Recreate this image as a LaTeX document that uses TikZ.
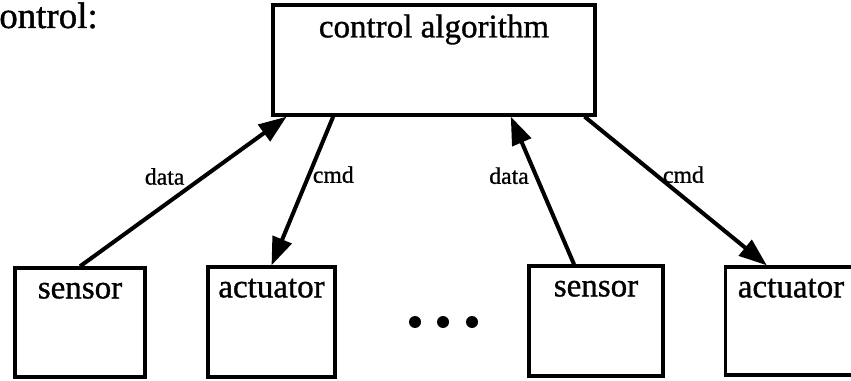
\documentclass[tikz,border=0pt]{standalone}
\usepackage{fontspec}
\setmainfont{Liberation Serif}
\newfontfamily\scanfont[FakeBold=1]{Liberation Serif}
\usetikzlibrary{arrows.meta,calc}

\begin{document}
\begin{tikzpicture}[x=0.02cm,y=-0.02cm,
  box/.style={draw,line width=1.9pt,minimum height=2.2cm,inner sep=0pt},
  lbl/.style={inner sep=0pt,font=\scanfont\fontsize{18.8}{20}\selectfont},
  tag/.style={inner sep=1pt,font=\scanfont\fontsize{13.5}{14}\selectfont},
  link/.style={line width=2.3pt,-{Triangle[length=0.56cm,width=0.4cm]}}]
\useasboundingbox (0,0) rectangle (851,381);

% heading, cut at the left edge
\node[anchor=base west,inner sep=0pt,font=\scanfont\fontsize{21}{22}\selectfont] (head) at (-1,28) {ontrol:};

% control algorithm
\node[box,minimum width=6.44cm] (ctrl) at (434,60) {};
\node[lbl,anchor=base] (ctrltxt) at ([yshift=-0.68cm]ctrl.north) {control algorithm};

% sensors and actuators
\node[box,minimum width=2.6cm,minimum height=2.18cm] (sen1) at (80,322.5) {};
\node[lbl,anchor=base] (sen1txt) at ([yshift=-0.64cm]sen1.north) {sensor};
\node[box,minimum width=2.54cm] (act1) at (271.5,322) {};
\node[lbl,anchor=base] (act1txt) at ([yshift=-0.64cm]act1.north) {actuator};
\node[box,minimum width=2.68cm] (sen2) at (596,321) {};
\node[lbl,anchor=base] (sen2txt) at ([yshift=-0.64cm]sen2.north) {sensor};
\node[box,minimum width=2.62cm,minimum height=2.16cm] (act2) at (791,321) {};
\node[lbl,anchor=base] (act2txt) at ([yshift=-0.64cm]act2.north) {actuator};

% dots
\foreach \x in {415,443,472}
  \fill (\x,322) circle (6);

% data and commands
\draw[link] (sen1.north) -- ($(ctrl.south west)!.047!(ctrl.south east)$)
  node[tag,pos=.6,anchor=east,xshift=-9pt] (d1) {data};
\draw[link] ($(ctrl.south west)!.19!(ctrl.south east)$) -- (act1.north)
  node[tag,pos=.39,anchor=west] (c1) {cmd};
\draw[link] ($(sen2.north west)!.34!(sen2.north east)$) -- ($(ctrl.south west)!.736!(ctrl.south east)$)
  node[tag,pos=.6,anchor=east,xshift=-2pt] (d2) {data};
\draw[link] ($(ctrl.south west)!.963!(ctrl.south east)$) -- ($(act2.north west)!.32!(act2.north east)$)
  node[tag,pos=.39,anchor=west,xshift=2pt] (c2) {cmd};
\end{tikzpicture}
\end{document}
